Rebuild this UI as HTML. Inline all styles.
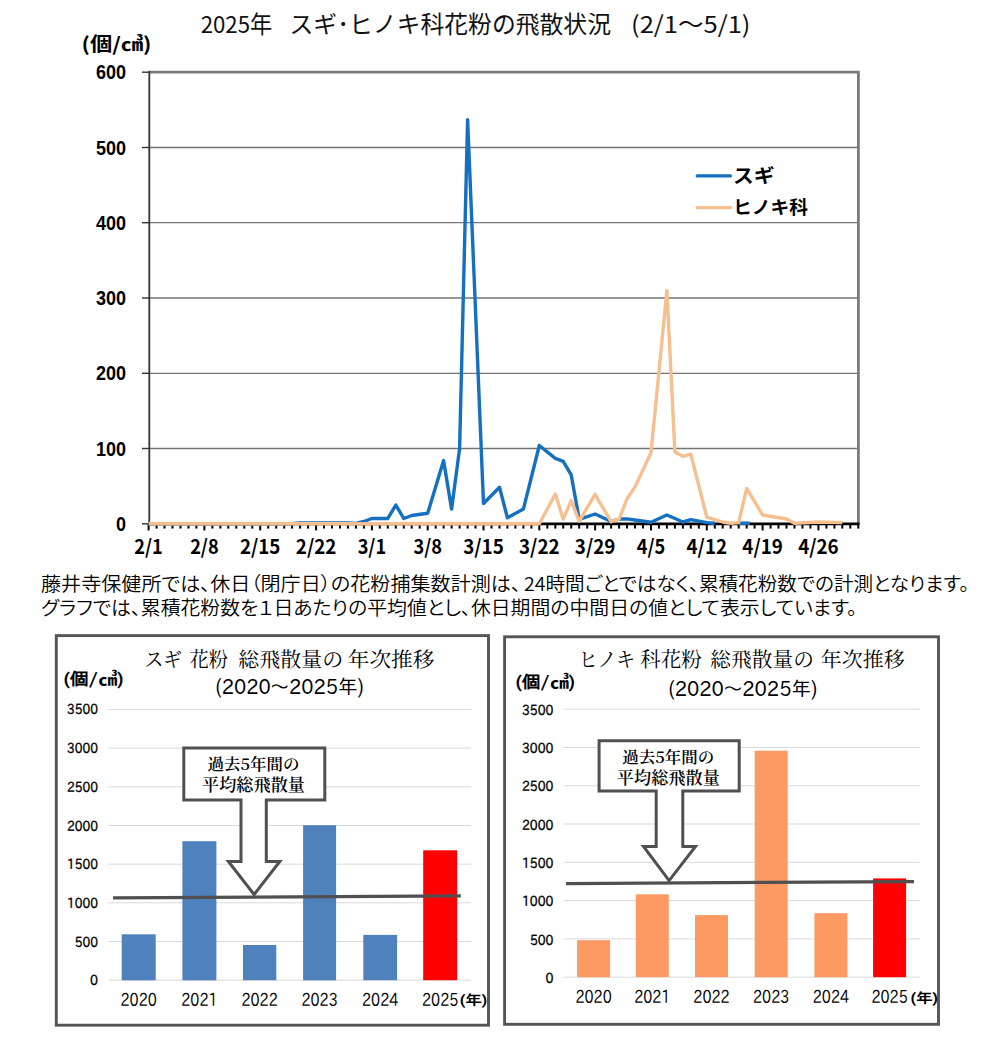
<!DOCTYPE html>
<html lang="ja"><head><meta charset="utf-8"><title>2025年 スギ・ヒノキ科花粉の飛散状況</title>
<style>html,body{margin:0;padding:0;background:#fff}svg{display:block}text{white-space:pre}
.goth{font-family:"Liberation Sans","Noto Sans CJK JP",sans-serif}
.gothj{font-family:"Noto Sans CJK JP","Liberation Sans",sans-serif}
.pg{font-family:"IPAPGothic","IPAGothic","Liberation Sans","Noto Sans CJK JP",sans-serif}
.palt{font-feature-settings:"palt" 1}
.kyo{font-family:"Noto Serif CJK JP","Noto Serif CJK SC","Liberation Serif",serif}</style></head>
<body>
<svg width="985" height="1059" viewBox="0 0 985 1059">
<rect width="985" height="1059" fill="#fff"/>
<text y="33.3" class="gothj" font-size="23.5" font-weight="400" fill="#111"><tspan x="200.7" textLength="71.5" lengthAdjust="spacingAndGlyphs">2025年</tspan><tspan x="289.5" textLength="321.5" lengthAdjust="spacingAndGlyphs">スギ･ヒノキ科花粉の飛散状況</tspan><tspan x="631" textLength="119.5" lengthAdjust="spacingAndGlyphs">(2/1～5/1)</tspan></text>
<text x="81.5" y="51.3" class="gothj" font-size="19" font-weight="700" text-anchor="start" fill="#000" textLength="70" lengthAdjust="spacingAndGlyphs" >(個/㎤)</text>
<line x1="149" x2="858" y1="448.5" y2="448.5" stroke="#747474" stroke-width="1.3"/>
<line x1="149" x2="858" y1="373.3" y2="373.3" stroke="#747474" stroke-width="1.3"/>
<line x1="149" x2="858" y1="298.0" y2="298.0" stroke="#747474" stroke-width="1.3"/>
<line x1="149" x2="858" y1="222.7" y2="222.7" stroke="#747474" stroke-width="1.3"/>
<line x1="149" x2="858" y1="147.5" y2="147.5" stroke="#747474" stroke-width="1.3"/>
<path d="M149 72.2 H858.4 V524" fill="none" stroke="#7c7c7c" stroke-width="2.8"/>
<line x1="149.3" x2="149.3" y1="71" y2="525" stroke="#333" stroke-width="1.8"/>
<line x1="142" x2="150" y1="523.8" y2="523.8" stroke="#333" stroke-width="1.4"/>
<text x="126" y="530.9" class="goth" font-size="19.5" font-weight="700" text-anchor="end" fill="#000" textLength="10" lengthAdjust="spacingAndGlyphs" >0</text>
<line x1="142" x2="150" y1="448.5" y2="448.5" stroke="#333" stroke-width="1.4"/>
<text x="126" y="455.6333333333333" class="goth" font-size="19.5" font-weight="700" text-anchor="end" fill="#000" textLength="30" lengthAdjust="spacingAndGlyphs" >100</text>
<line x1="142" x2="150" y1="373.3" y2="373.3" stroke="#333" stroke-width="1.4"/>
<text x="126" y="380.3666666666667" class="goth" font-size="19.5" font-weight="700" text-anchor="end" fill="#000" textLength="30" lengthAdjust="spacingAndGlyphs" >200</text>
<line x1="142" x2="150" y1="298.0" y2="298.0" stroke="#333" stroke-width="1.4"/>
<text x="126" y="305.09999999999997" class="goth" font-size="19.5" font-weight="700" text-anchor="end" fill="#000" textLength="30" lengthAdjust="spacingAndGlyphs" >300</text>
<line x1="142" x2="150" y1="222.7" y2="222.7" stroke="#333" stroke-width="1.4"/>
<text x="126" y="229.8333333333333" class="goth" font-size="19.5" font-weight="700" text-anchor="end" fill="#000" textLength="30" lengthAdjust="spacingAndGlyphs" >400</text>
<line x1="142" x2="150" y1="147.5" y2="147.5" stroke="#333" stroke-width="1.4"/>
<text x="126" y="154.56666666666658" class="goth" font-size="19.5" font-weight="700" text-anchor="end" fill="#000" textLength="30" lengthAdjust="spacingAndGlyphs" >500</text>
<line x1="142" x2="150" y1="72.2" y2="72.2" stroke="#333" stroke-width="1.4"/>
<text x="126" y="79.29999999999993" class="goth" font-size="19.5" font-weight="700" text-anchor="end" fill="#000" textLength="30" lengthAdjust="spacingAndGlyphs" >600</text>
<line x1="148" x2="859.5" y1="523.9" y2="523.9" stroke="#000" stroke-width="2.8"/>
<line x1="148.6" x2="148.6" y1="524" y2="530.4" stroke="#000" stroke-width="2"/>
<line x1="156.6" x2="156.6" y1="524" y2="528.6" stroke="#000" stroke-width="2"/>
<line x1="164.5" x2="164.5" y1="524" y2="528.6" stroke="#000" stroke-width="2"/>
<line x1="172.5" x2="172.5" y1="524" y2="528.6" stroke="#000" stroke-width="2"/>
<line x1="180.5" x2="180.5" y1="524" y2="528.6" stroke="#000" stroke-width="2"/>
<line x1="188.5" x2="188.5" y1="524" y2="528.6" stroke="#000" stroke-width="2"/>
<line x1="196.4" x2="196.4" y1="524" y2="528.6" stroke="#000" stroke-width="2"/>
<line x1="204.4" x2="204.4" y1="524" y2="530.4" stroke="#000" stroke-width="2"/>
<line x1="212.4" x2="212.4" y1="524" y2="528.6" stroke="#000" stroke-width="2"/>
<line x1="220.4" x2="220.4" y1="524" y2="528.6" stroke="#000" stroke-width="2"/>
<line x1="228.3" x2="228.3" y1="524" y2="528.6" stroke="#000" stroke-width="2"/>
<line x1="236.3" x2="236.3" y1="524" y2="528.6" stroke="#000" stroke-width="2"/>
<line x1="244.3" x2="244.3" y1="524" y2="528.6" stroke="#000" stroke-width="2"/>
<line x1="252.3" x2="252.3" y1="524" y2="528.6" stroke="#000" stroke-width="2"/>
<line x1="260.2" x2="260.2" y1="524" y2="530.4" stroke="#000" stroke-width="2"/>
<line x1="268.2" x2="268.2" y1="524" y2="528.6" stroke="#000" stroke-width="2"/>
<line x1="276.2" x2="276.2" y1="524" y2="528.6" stroke="#000" stroke-width="2"/>
<line x1="284.2" x2="284.2" y1="524" y2="528.6" stroke="#000" stroke-width="2"/>
<line x1="292.1" x2="292.1" y1="524" y2="528.6" stroke="#000" stroke-width="2"/>
<line x1="300.1" x2="300.1" y1="524" y2="528.6" stroke="#000" stroke-width="2"/>
<line x1="308.1" x2="308.1" y1="524" y2="528.6" stroke="#000" stroke-width="2"/>
<line x1="316.1" x2="316.1" y1="524" y2="530.4" stroke="#000" stroke-width="2"/>
<line x1="324.0" x2="324.0" y1="524" y2="528.6" stroke="#000" stroke-width="2"/>
<line x1="332.0" x2="332.0" y1="524" y2="528.6" stroke="#000" stroke-width="2"/>
<line x1="340.0" x2="340.0" y1="524" y2="528.6" stroke="#000" stroke-width="2"/>
<line x1="347.9" x2="347.9" y1="524" y2="528.6" stroke="#000" stroke-width="2"/>
<line x1="355.9" x2="355.9" y1="524" y2="528.6" stroke="#000" stroke-width="2"/>
<line x1="363.9" x2="363.9" y1="524" y2="528.6" stroke="#000" stroke-width="2"/>
<line x1="371.9" x2="371.9" y1="524" y2="530.4" stroke="#000" stroke-width="2"/>
<line x1="379.8" x2="379.8" y1="524" y2="528.6" stroke="#000" stroke-width="2"/>
<line x1="387.8" x2="387.8" y1="524" y2="528.6" stroke="#000" stroke-width="2"/>
<line x1="395.8" x2="395.8" y1="524" y2="528.6" stroke="#000" stroke-width="2"/>
<line x1="403.8" x2="403.8" y1="524" y2="528.6" stroke="#000" stroke-width="2"/>
<line x1="411.7" x2="411.7" y1="524" y2="528.6" stroke="#000" stroke-width="2"/>
<line x1="419.7" x2="419.7" y1="524" y2="528.6" stroke="#000" stroke-width="2"/>
<line x1="427.7" x2="427.7" y1="524" y2="530.4" stroke="#000" stroke-width="2"/>
<line x1="435.7" x2="435.7" y1="524" y2="528.6" stroke="#000" stroke-width="2"/>
<line x1="443.6" x2="443.6" y1="524" y2="528.6" stroke="#000" stroke-width="2"/>
<line x1="451.6" x2="451.6" y1="524" y2="528.6" stroke="#000" stroke-width="2"/>
<line x1="459.6" x2="459.6" y1="524" y2="528.6" stroke="#000" stroke-width="2"/>
<line x1="467.6" x2="467.6" y1="524" y2="528.6" stroke="#000" stroke-width="2"/>
<line x1="475.5" x2="475.5" y1="524" y2="528.6" stroke="#000" stroke-width="2"/>
<line x1="483.5" x2="483.5" y1="524" y2="530.4" stroke="#000" stroke-width="2"/>
<line x1="491.5" x2="491.5" y1="524" y2="528.6" stroke="#000" stroke-width="2"/>
<line x1="499.5" x2="499.5" y1="524" y2="528.6" stroke="#000" stroke-width="2"/>
<line x1="507.4" x2="507.4" y1="524" y2="528.6" stroke="#000" stroke-width="2"/>
<line x1="515.4" x2="515.4" y1="524" y2="528.6" stroke="#000" stroke-width="2"/>
<line x1="523.4" x2="523.4" y1="524" y2="528.6" stroke="#000" stroke-width="2"/>
<line x1="531.4" x2="531.4" y1="524" y2="528.6" stroke="#000" stroke-width="2"/>
<line x1="539.3" x2="539.3" y1="524" y2="530.4" stroke="#000" stroke-width="2"/>
<line x1="547.3" x2="547.3" y1="524" y2="528.6" stroke="#000" stroke-width="2"/>
<line x1="555.3" x2="555.3" y1="524" y2="528.6" stroke="#000" stroke-width="2"/>
<line x1="563.2" x2="563.2" y1="524" y2="528.6" stroke="#000" stroke-width="2"/>
<line x1="571.2" x2="571.2" y1="524" y2="528.6" stroke="#000" stroke-width="2"/>
<line x1="579.2" x2="579.2" y1="524" y2="528.6" stroke="#000" stroke-width="2"/>
<line x1="587.2" x2="587.2" y1="524" y2="528.6" stroke="#000" stroke-width="2"/>
<line x1="595.1" x2="595.1" y1="524" y2="530.4" stroke="#000" stroke-width="2"/>
<line x1="603.1" x2="603.1" y1="524" y2="528.6" stroke="#000" stroke-width="2"/>
<line x1="611.1" x2="611.1" y1="524" y2="528.6" stroke="#000" stroke-width="2"/>
<line x1="619.1" x2="619.1" y1="524" y2="528.6" stroke="#000" stroke-width="2"/>
<line x1="627.0" x2="627.0" y1="524" y2="528.6" stroke="#000" stroke-width="2"/>
<line x1="635.0" x2="635.0" y1="524" y2="528.6" stroke="#000" stroke-width="2"/>
<line x1="643.0" x2="643.0" y1="524" y2="528.6" stroke="#000" stroke-width="2"/>
<line x1="651.0" x2="651.0" y1="524" y2="530.4" stroke="#000" stroke-width="2"/>
<line x1="658.9" x2="658.9" y1="524" y2="528.6" stroke="#000" stroke-width="2"/>
<line x1="666.9" x2="666.9" y1="524" y2="528.6" stroke="#000" stroke-width="2"/>
<line x1="674.9" x2="674.9" y1="524" y2="528.6" stroke="#000" stroke-width="2"/>
<line x1="682.9" x2="682.9" y1="524" y2="528.6" stroke="#000" stroke-width="2"/>
<line x1="690.8" x2="690.8" y1="524" y2="528.6" stroke="#000" stroke-width="2"/>
<line x1="698.8" x2="698.8" y1="524" y2="528.6" stroke="#000" stroke-width="2"/>
<line x1="706.8" x2="706.8" y1="524" y2="530.4" stroke="#000" stroke-width="2"/>
<line x1="714.8" x2="714.8" y1="524" y2="528.6" stroke="#000" stroke-width="2"/>
<line x1="722.7" x2="722.7" y1="524" y2="528.6" stroke="#000" stroke-width="2"/>
<line x1="730.7" x2="730.7" y1="524" y2="528.6" stroke="#000" stroke-width="2"/>
<line x1="738.7" x2="738.7" y1="524" y2="528.6" stroke="#000" stroke-width="2"/>
<line x1="746.7" x2="746.7" y1="524" y2="528.6" stroke="#000" stroke-width="2"/>
<line x1="754.6" x2="754.6" y1="524" y2="528.6" stroke="#000" stroke-width="2"/>
<line x1="762.6" x2="762.6" y1="524" y2="530.4" stroke="#000" stroke-width="2"/>
<line x1="770.6" x2="770.6" y1="524" y2="528.6" stroke="#000" stroke-width="2"/>
<line x1="778.5" x2="778.5" y1="524" y2="528.6" stroke="#000" stroke-width="2"/>
<line x1="786.5" x2="786.5" y1="524" y2="528.6" stroke="#000" stroke-width="2"/>
<line x1="794.5" x2="794.5" y1="524" y2="528.6" stroke="#000" stroke-width="2"/>
<line x1="802.5" x2="802.5" y1="524" y2="528.6" stroke="#000" stroke-width="2"/>
<line x1="810.4" x2="810.4" y1="524" y2="528.6" stroke="#000" stroke-width="2"/>
<line x1="818.4" x2="818.4" y1="524" y2="530.4" stroke="#000" stroke-width="2"/>
<line x1="826.4" x2="826.4" y1="524" y2="528.6" stroke="#000" stroke-width="2"/>
<line x1="834.4" x2="834.4" y1="524" y2="528.6" stroke="#000" stroke-width="2"/>
<line x1="842.3" x2="842.3" y1="524" y2="528.6" stroke="#000" stroke-width="2"/>
<line x1="850.3" x2="850.3" y1="524" y2="528.6" stroke="#000" stroke-width="2"/>
<line x1="858.3" x2="858.3" y1="524" y2="528.6" stroke="#000" stroke-width="2"/>
<text x="148.6" y="554" class="gothj" font-size="20" font-weight="700" text-anchor="middle" fill="#000" textLength="28.5" lengthAdjust="spacingAndGlyphs" >2/1</text>
<text x="204.4" y="554" class="gothj" font-size="20" font-weight="700" text-anchor="middle" fill="#000" textLength="28.5" lengthAdjust="spacingAndGlyphs" >2/8</text>
<text x="260.2" y="554" class="gothj" font-size="20" font-weight="700" text-anchor="middle" fill="#000" textLength="40.5" lengthAdjust="spacingAndGlyphs" >2/15</text>
<text x="316.1" y="554" class="gothj" font-size="20" font-weight="700" text-anchor="middle" fill="#000" textLength="40.5" lengthAdjust="spacingAndGlyphs" >2/22</text>
<text x="371.9" y="554" class="gothj" font-size="20" font-weight="700" text-anchor="middle" fill="#000" textLength="28.5" lengthAdjust="spacingAndGlyphs" >3/1</text>
<text x="427.7" y="554" class="gothj" font-size="20" font-weight="700" text-anchor="middle" fill="#000" textLength="28.5" lengthAdjust="spacingAndGlyphs" >3/8</text>
<text x="483.5" y="554" class="gothj" font-size="20" font-weight="700" text-anchor="middle" fill="#000" textLength="40.5" lengthAdjust="spacingAndGlyphs" >3/15</text>
<text x="539.3" y="554" class="gothj" font-size="20" font-weight="700" text-anchor="middle" fill="#000" textLength="40.5" lengthAdjust="spacingAndGlyphs" >3/22</text>
<text x="595.1" y="554" class="gothj" font-size="20" font-weight="700" text-anchor="middle" fill="#000" textLength="40.5" lengthAdjust="spacingAndGlyphs" >3/29</text>
<text x="651.0" y="554" class="gothj" font-size="20" font-weight="700" text-anchor="middle" fill="#000" textLength="28.5" lengthAdjust="spacingAndGlyphs" >4/5</text>
<text x="706.8" y="554" class="gothj" font-size="20" font-weight="700" text-anchor="middle" fill="#000" textLength="40.5" lengthAdjust="spacingAndGlyphs" >4/12</text>
<text x="762.6" y="554" class="gothj" font-size="20" font-weight="700" text-anchor="middle" fill="#000" textLength="40.5" lengthAdjust="spacingAndGlyphs" >4/19</text>
<text x="818.4" y="554" class="gothj" font-size="20" font-weight="700" text-anchor="middle" fill="#000" textLength="40.5" lengthAdjust="spacingAndGlyphs" >4/26</text>
<polyline points="148.6,523.8 292.1,523.8 300.1,522.9 347.9,522.9 355.9,523.4 363.9,521.5 371.9,518.5 379.8,518.5 387.8,518.5 395.8,505.0 403.8,518.5 411.7,515.5 427.7,513.3 443.6,460.6 451.6,509.1 459.6,448.5 467.6,119.6 483.5,503.5 499.5,487.3 507.4,517.8 523.4,509.1 539.3,445.5 555.3,458.3 563.2,461.3 571.2,474.9 579.2,519.3 595.1,514.0 611.1,521.5 619.1,519.0 627.0,518.9 635.0,520.0 651.0,522.3 666.9,515.0 682.9,522.0 690.8,519.6 706.8,522.6 714.8,523.2" fill="none" stroke="#1570c0" stroke-width="3.4" stroke-linejoin="round" stroke-linecap="butt"/>
<polyline points="738.7,523.3 746.7,523.1 749.8,523.3" fill="none" stroke="#1570c0" stroke-width="3.4" stroke-linejoin="round" stroke-linecap="butt"/>
<polyline points="148.6,523.8 539.3,523.8 555.3,494.1 563.2,519.1 571.2,500.6 579.2,521.1 595.1,494.3 611.1,521.7 619.1,519.0 627.0,499.0 635.0,486.9 651.0,452.7 666.9,290.7 674.9,452.0 682.9,456.3 690.8,454.2 706.8,517.1 722.7,522.0 730.7,523.2 738.7,522.6 746.7,488.4 762.6,515.0 786.5,519.0 794.5,523.2 818.4,522.0 842.3,522.6" fill="none" stroke="#f6bf8f" stroke-width="3.4" stroke-linejoin="round" stroke-linecap="butt"/>
<line x1="697.2" x2="730.4" y1="175.9" y2="175.9" stroke="#1570c0" stroke-width="3.2" stroke-linecap="round"/>
<text x="733" y="182.6" class="gothj" font-size="19" font-weight="700" text-anchor="start" fill="#000" textLength="41.5" lengthAdjust="spacingAndGlyphs" >スギ</text>
<line x1="697.2" x2="730.4" y1="207.6" y2="207.6" stroke="#f6bf8f" stroke-width="3.2" stroke-linecap="round"/>
<text x="733" y="214" class="gothj" font-size="18" font-weight="700" text-anchor="start" fill="#000" textLength="75" lengthAdjust="spacingAndGlyphs" >ヒノキ科</text>
<text y="591" class="gothj palt" font-size="19" font-weight="350" fill="#000"><tspan x="41" textLength="480" lengthAdjust="spacingAndGlyphs">藤井寺保健所では、休日（閉庁日）の花粉捕集数計測は、</tspan><tspan x="524" textLength="445" lengthAdjust="spacingAndGlyphs">24時間ごとではなく、累積花粉数での計測となります。</tspan></text>
<text x="41" y="614.5" class="gothj palt" font-size="19" font-weight="350" text-anchor="start" fill="#000" textLength="816" lengthAdjust="spacingAndGlyphs" >グラフでは、累積花粉数を１日あたりの平均値とし、休日期間の中間日の値として表示しています。</text>
<rect x="56.3" y="635.6" width="432.2" height="389.6" fill="#fff" stroke="#555" stroke-width="2.9"/>
<line x1="108.3" x2="471.2" y1="709.4" y2="709.4" stroke="#d9d9d9" stroke-width="1"/>
<text x="98" y="714.4" class="pg" font-size="14" font-weight="400" text-anchor="end" fill="#000" textLength="31" lengthAdjust="spacingAndGlyphs" stroke="#000" stroke-width="0.35">3500</text>
<line x1="108.3" x2="471.2" y1="748.1" y2="748.1" stroke="#d9d9d9" stroke-width="1"/>
<text x="98" y="753.1" class="pg" font-size="14" font-weight="400" text-anchor="end" fill="#000" textLength="31" lengthAdjust="spacingAndGlyphs" stroke="#000" stroke-width="0.35">3000</text>
<line x1="108.3" x2="471.2" y1="786.8" y2="786.8" stroke="#d9d9d9" stroke-width="1"/>
<text x="98" y="791.8" class="pg" font-size="14" font-weight="400" text-anchor="end" fill="#000" textLength="31" lengthAdjust="spacingAndGlyphs" stroke="#000" stroke-width="0.35">2500</text>
<line x1="108.3" x2="471.2" y1="825.5" y2="825.5" stroke="#d9d9d9" stroke-width="1"/>
<text x="98" y="830.5" class="pg" font-size="14" font-weight="400" text-anchor="end" fill="#000" textLength="31" lengthAdjust="spacingAndGlyphs" stroke="#000" stroke-width="0.35">2000</text>
<line x1="108.3" x2="471.2" y1="864.2" y2="864.2" stroke="#d9d9d9" stroke-width="1"/>
<text x="98" y="869.2" class="pg" font-size="14" font-weight="400" text-anchor="end" fill="#000" textLength="31" lengthAdjust="spacingAndGlyphs" stroke="#000" stroke-width="0.35">1500</text>
<line x1="108.3" x2="471.2" y1="902.8" y2="902.8" stroke="#d9d9d9" stroke-width="1"/>
<text x="98" y="907.8" class="pg" font-size="14" font-weight="400" text-anchor="end" fill="#000" textLength="31" lengthAdjust="spacingAndGlyphs" stroke="#000" stroke-width="0.35">1000</text>
<line x1="108.3" x2="471.2" y1="941.5" y2="941.5" stroke="#d9d9d9" stroke-width="1"/>
<text x="98" y="946.5" class="pg" font-size="14" font-weight="400" text-anchor="end" fill="#000" textLength="23.2" lengthAdjust="spacingAndGlyphs" stroke="#000" stroke-width="0.35">500</text>
<line x1="108.3" x2="471.2" y1="980.2" y2="980.2" stroke="#d9d9d9" stroke-width="1"/>
<text x="98" y="985.2" class="pg" font-size="14" font-weight="400" text-anchor="end" fill="#000" textLength="8" lengthAdjust="spacingAndGlyphs" stroke="#000" stroke-width="0.35">0</text>
<rect x="121.7" y="934.3" width="34.0" height="46.0" fill="#4f81bd"/>
<text x="138.7" y="1005.5" class="pg" font-size="18" font-weight="400" text-anchor="middle" fill="#000" textLength="36.3" lengthAdjust="spacingAndGlyphs" >2020</text>
<rect x="182.4" y="841.2" width="34.0" height="139.1" fill="#4f81bd"/>
<text x="199.4" y="1005.5" class="pg" font-size="18" font-weight="400" text-anchor="middle" fill="#000" textLength="36.3" lengthAdjust="spacingAndGlyphs" >2021</text>
<rect x="243.0" y="945.0" width="33.3" height="35.2" fill="#4f81bd"/>
<text x="259.6" y="1005.5" class="pg" font-size="18" font-weight="400" text-anchor="middle" fill="#000" textLength="36.3" lengthAdjust="spacingAndGlyphs" >2022</text>
<rect x="303.1" y="825.2" width="33.0" height="155.1" fill="#4f81bd"/>
<text x="319.6" y="1005.5" class="pg" font-size="18" font-weight="400" text-anchor="middle" fill="#000" textLength="36.3" lengthAdjust="spacingAndGlyphs" >2023</text>
<rect x="363.3" y="934.9" width="33.8" height="45.3" fill="#4f81bd"/>
<text x="380.2" y="1005.5" class="pg" font-size="18" font-weight="400" text-anchor="middle" fill="#000" textLength="36.3" lengthAdjust="spacingAndGlyphs" >2024</text>
<rect x="423.2" y="850.3" width="34.0" height="129.9" fill="#ff0000"/>
<text x="440.2" y="1005.5" class="pg" font-size="18" font-weight="400" text-anchor="middle" fill="#000" textLength="36.3" lengthAdjust="spacingAndGlyphs" >2025</text>
<text x="459.7" y="1005.0" class="pg" font-size="14" font-weight="700" text-anchor="start" fill="#000" textLength="27.5" lengthAdjust="spacingAndGlyphs" >(年)</text>
<path d="M183.8 747.9 H324.8 V800.1 H266.3 V861.4 H279.8 L254.1 894.5 L228.4 861.4 H241 V800.1 H183.8 Z" fill="#fff" stroke="#505050" stroke-width="3" stroke-linejoin="miter"/>
<text x="253.5" y="769.5" class="kyo" font-size="15.5" font-weight="600" text-anchor="middle" fill="#000" textLength="92" lengthAdjust="spacingAndGlyphs" >過去5年間の</text>
<text x="253.5" y="791" class="kyo" font-size="16.5" font-weight="600" text-anchor="middle" fill="#000" textLength="103" lengthAdjust="spacingAndGlyphs" >平均総飛散量</text>
<line x1="113" y1="897.9" x2="460.8" y2="895.9" stroke="#505050" stroke-width="3.3"/>
<text y="666.7" class="kyo" font-size="20.5" font-weight="400" fill="#000"><tspan x="144.7" textLength="37.2" lengthAdjust="spacingAndGlyphs">スギ</tspan><tspan x="189.6" textLength="38.4" lengthAdjust="spacingAndGlyphs">花粉</tspan><tspan x="238.3" textLength="105.0" lengthAdjust="spacingAndGlyphs">総飛散量の</tspan><tspan x="347.8" textLength="86.5" lengthAdjust="spacingAndGlyphs">年次推移</tspan></text>
<text x="215.3" y="694" class="pg" font-size="20" font-weight="400" text-anchor="start" fill="#000" textLength="148.7" lengthAdjust="spacingAndGlyphs" >(2020～2025年)</text>
<text x="63.5" y="685" class="pg" font-size="17" font-weight="700" text-anchor="start" fill="#000" textLength="60.0" lengthAdjust="spacingAndGlyphs" >(個/㎤)</text>
<rect x="504.6" y="636.8" width="433.9" height="387.5" fill="#fff" stroke="#555" stroke-width="2.9"/>
<line x1="563.3" x2="919.8" y1="709.2" y2="709.2" stroke="#d9d9d9" stroke-width="1"/>
<text x="553.5" y="714.8" class="pg" font-size="14" font-weight="400" text-anchor="end" fill="#000" textLength="31.5" lengthAdjust="spacingAndGlyphs" stroke="#000" stroke-width="0.35">3500</text>
<line x1="563.3" x2="919.8" y1="747.5" y2="747.5" stroke="#d9d9d9" stroke-width="1"/>
<text x="553.5" y="753.1" class="pg" font-size="14" font-weight="400" text-anchor="end" fill="#000" textLength="31.5" lengthAdjust="spacingAndGlyphs" stroke="#000" stroke-width="0.35">3000</text>
<line x1="563.3" x2="919.8" y1="785.8" y2="785.8" stroke="#d9d9d9" stroke-width="1"/>
<text x="553.5" y="791.4" class="pg" font-size="14" font-weight="400" text-anchor="end" fill="#000" textLength="31.5" lengthAdjust="spacingAndGlyphs" stroke="#000" stroke-width="0.35">2500</text>
<line x1="563.3" x2="919.8" y1="824.0" y2="824.0" stroke="#d9d9d9" stroke-width="1"/>
<text x="553.5" y="829.6" class="pg" font-size="14" font-weight="400" text-anchor="end" fill="#000" textLength="31.5" lengthAdjust="spacingAndGlyphs" stroke="#000" stroke-width="0.35">2000</text>
<line x1="563.3" x2="919.8" y1="862.3" y2="862.3" stroke="#d9d9d9" stroke-width="1"/>
<text x="553.5" y="867.9" class="pg" font-size="14" font-weight="400" text-anchor="end" fill="#000" textLength="31.5" lengthAdjust="spacingAndGlyphs" stroke="#000" stroke-width="0.35">1500</text>
<line x1="563.3" x2="919.8" y1="900.6" y2="900.6" stroke="#d9d9d9" stroke-width="1"/>
<text x="553.5" y="906.2" class="pg" font-size="14" font-weight="400" text-anchor="end" fill="#000" textLength="31.5" lengthAdjust="spacingAndGlyphs" stroke="#000" stroke-width="0.35">1000</text>
<line x1="563.3" x2="919.8" y1="938.9" y2="938.9" stroke="#d9d9d9" stroke-width="1"/>
<text x="553.5" y="944.5" class="pg" font-size="14" font-weight="400" text-anchor="end" fill="#000" textLength="23.6" lengthAdjust="spacingAndGlyphs" stroke="#000" stroke-width="0.35">500</text>
<line x1="563.3" x2="919.8" y1="977.2" y2="977.2" stroke="#d9d9d9" stroke-width="1"/>
<text x="553.5" y="982.8" class="pg" font-size="14" font-weight="400" text-anchor="end" fill="#000" textLength="8" lengthAdjust="spacingAndGlyphs" stroke="#000" stroke-width="0.35">0</text>
<rect x="577.1" y="940.2" width="33.0" height="37.0" fill="#fd9a63"/>
<text x="593.6" y="1003" class="pg" font-size="18" font-weight="400" text-anchor="middle" fill="#000" textLength="36.3" lengthAdjust="spacingAndGlyphs" >2020</text>
<rect x="635.8" y="894.3" width="33.0" height="82.8" fill="#fd9a63"/>
<text x="652.3" y="1003" class="pg" font-size="18" font-weight="400" text-anchor="middle" fill="#000" textLength="36.3" lengthAdjust="spacingAndGlyphs" >2021</text>
<rect x="695.0" y="915.1" width="33.0" height="62.0" fill="#fd9a63"/>
<text x="711.5" y="1003" class="pg" font-size="18" font-weight="400" text-anchor="middle" fill="#000" textLength="36.3" lengthAdjust="spacingAndGlyphs" >2022</text>
<rect x="754.7" y="750.7" width="33.0" height="226.5" fill="#fd9a63"/>
<text x="771.2" y="1003" class="pg" font-size="18" font-weight="400" text-anchor="middle" fill="#000" textLength="36.3" lengthAdjust="spacingAndGlyphs" >2023</text>
<rect x="814.4" y="913.2" width="33.0" height="64.0" fill="#fd9a63"/>
<text x="830.9" y="1003" class="pg" font-size="18" font-weight="400" text-anchor="middle" fill="#000" textLength="36.3" lengthAdjust="spacingAndGlyphs" >2024</text>
<rect x="873.1" y="878.4" width="33.0" height="98.8" fill="#ff0000"/>
<text x="889.6" y="1003" class="pg" font-size="18" font-weight="400" text-anchor="middle" fill="#000" textLength="36.3" lengthAdjust="spacingAndGlyphs" >2025</text>
<text x="910.6" y="1002.5" class="pg" font-size="14" font-weight="700" text-anchor="start" fill="#000" textLength="27.5" lengthAdjust="spacingAndGlyphs" >(年)</text>
<path d="M599.1 740.7 H739.2 V791.1 H682.8 V846.4 H695.5 L669.1 880.6 L643.5 846.4 H656.2 V791.1 H599.1 Z" fill="#fff" stroke="#505050" stroke-width="3" stroke-linejoin="miter"/>
<text x="668.3500000000001" y="762.5" class="kyo" font-size="15.5" font-weight="600" text-anchor="middle" fill="#000" textLength="92" lengthAdjust="spacingAndGlyphs" >過去5年間の</text>
<text x="668.3500000000001" y="784" class="kyo" font-size="16.5" font-weight="600" text-anchor="middle" fill="#000" textLength="103" lengthAdjust="spacingAndGlyphs" >平均総飛散量</text>
<line x1="566" y1="883.6" x2="914" y2="881.6" stroke="#505050" stroke-width="3.3"/>
<text y="667" class="kyo" font-size="20.5" font-weight="400" fill="#000"><tspan x="578.5" textLength="56.9" lengthAdjust="spacingAndGlyphs">ヒノキ</tspan><tspan x="640.3" textLength="61.4" lengthAdjust="spacingAndGlyphs">科花粉</tspan><tspan x="710.3" textLength="103.6" lengthAdjust="spacingAndGlyphs">総飛散量の</tspan><tspan x="820.8" textLength="83.8" lengthAdjust="spacingAndGlyphs">年次推移</tspan></text>
<text x="668.2" y="696" class="pg" font-size="20" font-weight="400" text-anchor="start" fill="#000" textLength="149.3" lengthAdjust="spacingAndGlyphs" >(2020～2025年)</text>
<text x="515.5" y="688" class="pg" font-size="17" font-weight="700" text-anchor="start" fill="#000" textLength="59.5" lengthAdjust="spacingAndGlyphs" >(個/㎤)</text>
</svg>
</body></html>
